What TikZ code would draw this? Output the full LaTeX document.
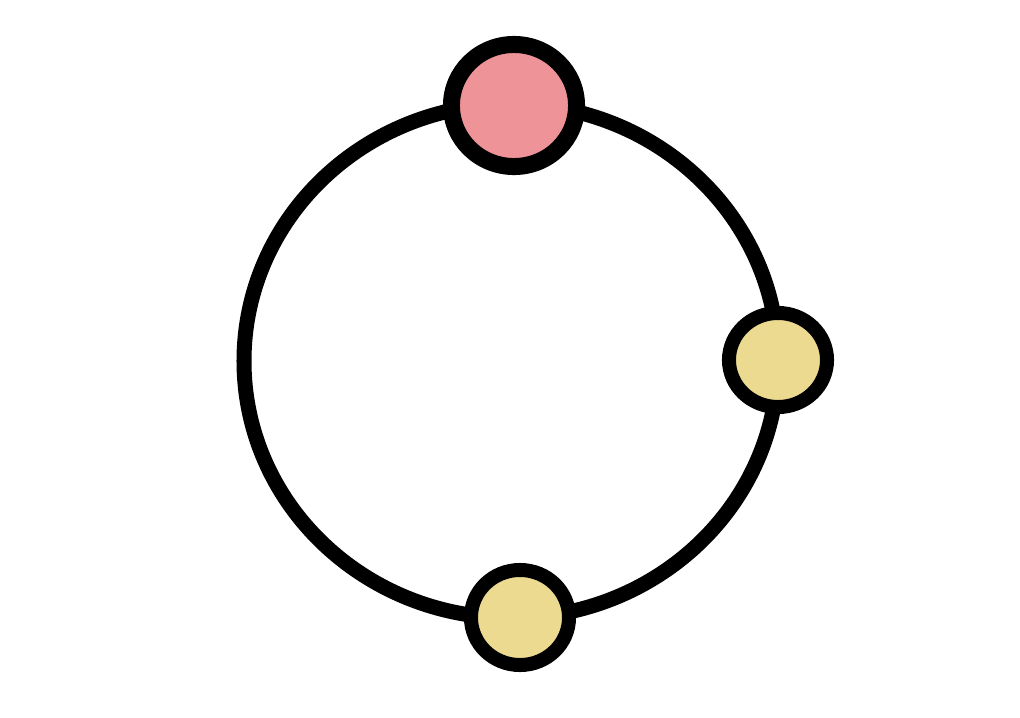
\documentclass[tikz,border=0pt]{standalone}
\usepackage{xcolor}
\usepackage{tikz}
\usetikzlibrary{shapes.geometric}
\definecolor{ringred}{HTML}{EE9397}
\definecolor{ringgold}{HTML}{ECDA91}
\begin{document}
\begin{tikzpicture}[x=0.01cm,y=0.01cm,
ringnode/.style={ellipse,draw=black,inner sep=0pt},
bignode/.style={ringnode,fill=ringred,line width=0.17cm,minimum width=1.25cm,minimum height=1.22cm},
smallnode/.style={ringnode,fill=ringgold,line width=0.14cm,minimum width=0.98cm,minimum height=0.94cm}]
\useasboundingbox(0,0)rectangle(1020,717);
\coordinate(c)at(511,356);
\draw[line width=0.15cm](c)ellipse[x radius=267,y radius=257];
\node[bignode](top)at(514,611.5){};
\node[smallnode](right)at(778,357){};
\node[smallnode,minimum height=0.95cm](bottom)at(520,99.5){};
\end{tikzpicture}
\end{document}
